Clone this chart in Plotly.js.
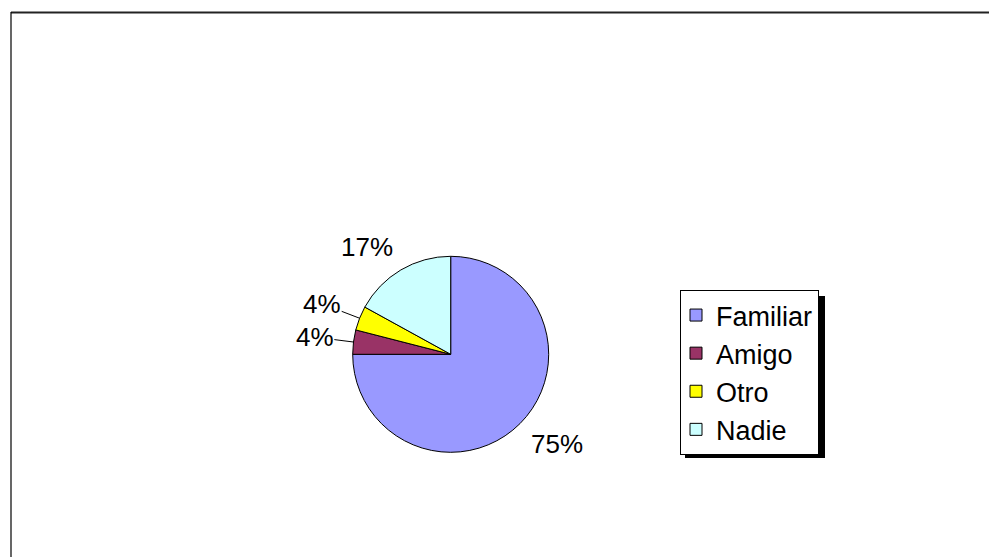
<!DOCTYPE html>
<html><head><meta charset="utf-8">
<script src="https://cdn.plot.ly/plotly-3.0.1.min.js"></script>
<style>html,body{margin:0;padding:0;background:#fff}#chart{width:989px;height:557px}</style>
</head><body><div id="chart"></div>
<script>
// ---- data ----
const categories = ['Familiar', 'Amigo', 'Otro', 'Nadie'];
const values = [75, 4, 4, 17];
const sliceColors = ['#9999FF', '#993366', '#FFFF00', '#CCFFFF'];

// ---- layout constants (pixels) ----
const W = 989, H = 557;
const CX = 450.7, CY = 354.3, R = 98;
const FONT = '"Liberation Sans", Arial, sans-serif';
const LABEL_SIZE = 26, LEGEND_SIZE = 27;
const LABEL_GAP = 16;      // distance of label corner beyond the rim
const LEADER_GAP = 20;     // same, for labels pulled out with a leader line
const LEADER_BELOW = 5;    // percent below which a leader line is drawn

const px = x => x / W;
const py = y => 1 - y / H;

const total = values.reduce((a, b) => a + b, 0);
const ctx = document.createElement('canvas').getContext('2d');
ctx.font = LABEL_SIZE + 'px ' + FONT;

let cum = 0;
const annotations = values.map((v, i) => {
  const pct = v / total * 100;
  const mid = (cum + v / 2) / total * 2 * Math.PI;
  cum += v;
  const s = Math.sin(mid), c = -Math.cos(mid);
  const text = Math.round(pct) + '%';
  const w = ctx.measureText(text).width;
  const gh = 0.73 * LABEL_SIZE;
  const leader = pct < LEADER_BELOW;
  const rc = R + (leader ? LEADER_GAP : LABEL_GAP);
  const tx = CX + rc * s + Math.sign(s) * w / 2;
  const ty = CY + rc * c + Math.sign(c) * gh / 2 * Math.min(1, Math.abs(c) / 0.5);
  const base = {
    text: text, xref: 'paper', yref: 'paper',
    font: {family: FONT, size: LABEL_SIZE, color: '#000'},
    borderpad: 0
  };
  if (leader) {
    const hx = CX + R * s, hy = CY + R * c;
    return Object.assign(base, {
      x: px(hx), y: py(hy), showarrow: true, arrowhead: 0, arrowwidth: 1,
      arrowcolor: '#000', standoff: 0, ax: tx - hx, ay: ty - hy
    });
  }
  return Object.assign(base, {
    x: px(tx), y: py(ty), showarrow: false, xanchor: 'center', yanchor: 'middle'
  });
});

const shapes = [
  // legend shadow
  {type: 'rect', xref: 'paper', yref: 'paper', layer: 'above',
   x0: px(685), x1: px(825), y0: py(458), y1: py(296),
   fillcolor: '#000', line: {width: 0}},
  // chart area border (top and left visible)
  {type: 'line', xref: 'paper', yref: 'paper', x0: px(11), x1: px(989), y0: py(12.5), y1: py(12.5),
   line: {color: '#222', width: 2}},
  {type: 'line', xref: 'paper', yref: 'paper', x0: px(11), x1: px(11), y0: py(12), y1: py(557),
   line: {color: '#000', width: 1.2}}
];

const trace = {
  type: 'pie',
  labels: categories,
  values: values,
  sort: false,
  direction: 'clockwise',
  rotation: 0,
  textinfo: 'none',
  hoverinfo: 'label+percent',
  marker: {colors: sliceColors, line: {color: '#000', width: 1}},
  domain: {x: [px(CX - R), px(CX + R)], y: [py(CY + R), py(CY - R)]}
};

const layout = {
  width: W, height: H,
  margin: {l: 0, r: 0, t: 0, b: 0},
  paper_bgcolor: '#fff',
  showlegend: true,
  legend: {
    x: px(680), y: py(290), xanchor: 'left', yanchor: 'top',
    bgcolor: '#fff', bordercolor: '#000', borderwidth: 1,
    indentation: -5,
    font: {family: FONT, size: LEGEND_SIZE, color: '#000'}
  },
  annotations: annotations,
  shapes: shapes
};

Plotly.newPlot('chart', [trace], layout, {displayModeBar: false, staticPlot: true});
</script>
</body></html>
